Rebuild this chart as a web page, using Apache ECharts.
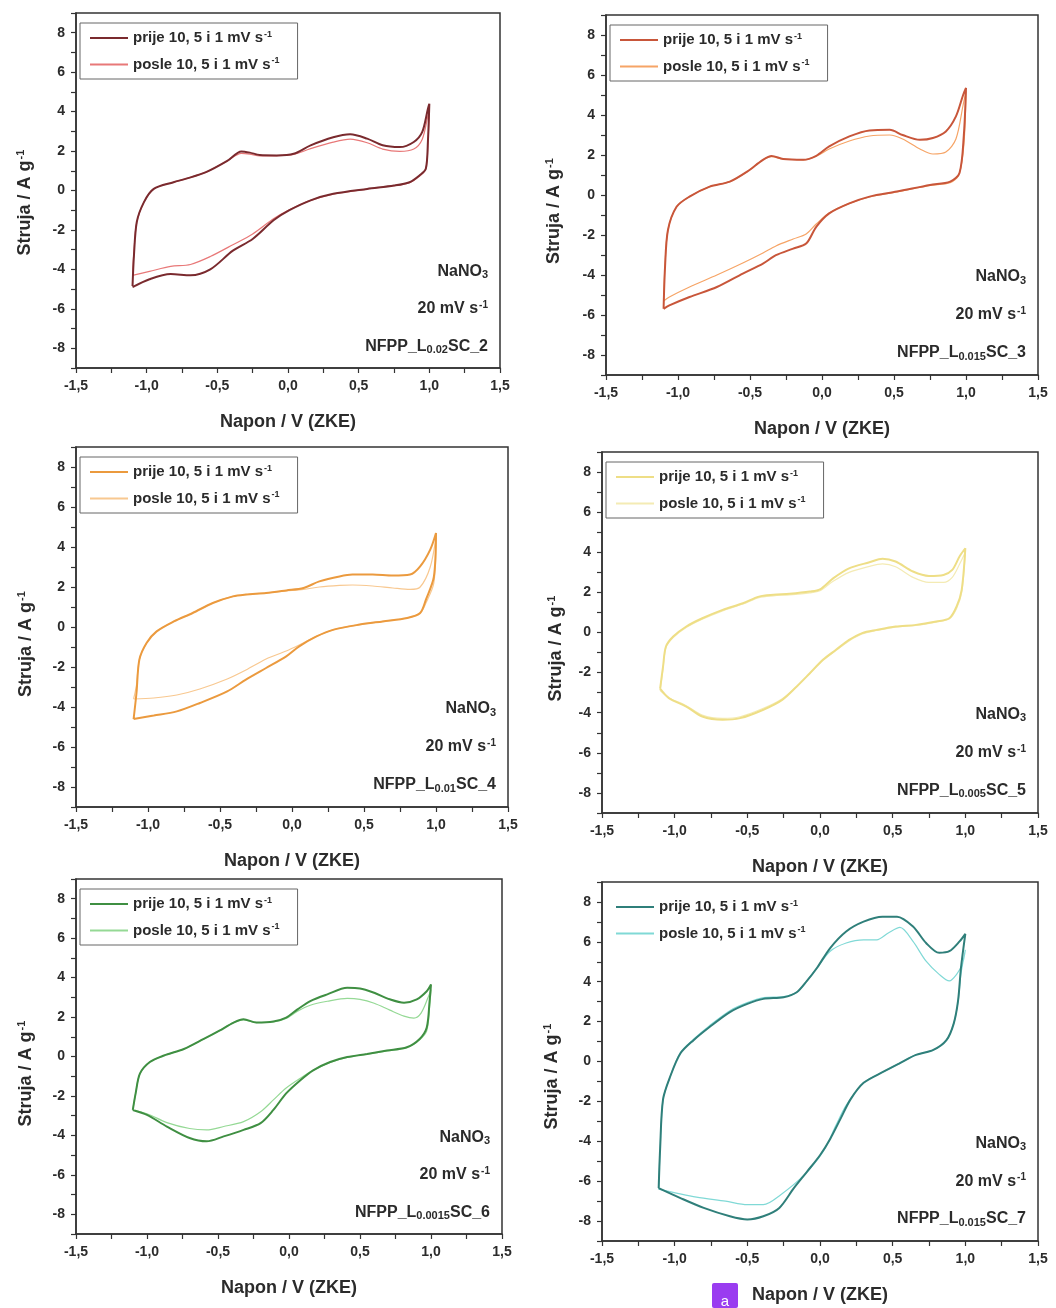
<!DOCTYPE html>
<html>
<head>
<meta charset="utf-8">
<script src="https://cdn.jsdelivr.net/npm/echarts@6/dist/echarts.min.js"></script>
<style>
html,body{margin:0;padding:0;background:#fff;}
#c{width:1056px;height:1308px;}
</style>
</head>
<body>
<div id="c"></div>
<script>
// ---------- DATA ----------
const seriesNames = ['prije 10, 5 i 1 mV s', 'posle 10, 5 i 1 mV s'];
const xTickLabels = ['-1,5','-1,0','-0,5','0,0','0,5','1,0','1,5'];
const yTickLabels = ['-8','-6','-4','-2','0','2','4','6','8'];
const sampleSubs = ['0.02','0.015','0.01','0.005','0.0015','0.015'];
const sampleNums = ['2','3','4','5','6','7'];

const p1Prije = [[-1.10,-4.85],[-1.09,-3.3],[-1.07,-1.6],[-1.02,-0.6],[-0.95,0.08],[-0.81,0.42],[-0.72,0.6],[-0.58,0.93],[-0.43,1.5],[-0.33,1.98],[-0.27,1.92],[-0.20,1.8],[-0.08,1.78],[0.04,1.86],[0.16,2.29],[0.32,2.7],[0.44,2.85],[0.56,2.63],[0.67,2.29],[0.79,2.2],[0.89,2.46],[0.95,2.97],[0.99,4.15],[1.0,4.4],[0.99,2.5],[0.975,1.1],[0.93,0.76],[0.86,0.42],[0.75,0.25],[0.56,0.08],[0.32,-0.17],[0.16,-0.5],[0.01,-1.0],[-0.10,-1.5],[-0.25,-2.46],[-0.39,-3.05],[-0.55,-4.0],[-0.69,-4.3],[-0.83,-4.24],[-0.98,-4.5],[-1.10,-4.9]];
const p1Posle = [[-1.10,-4.3],[-1.09,-3.1],[-1.07,-1.6],[-1.02,-0.6],[-0.95,0.08],[-0.81,0.42],[-0.72,0.6],[-0.58,0.93],[-0.43,1.5],[-0.33,1.88],[-0.27,1.84],[-0.20,1.75],[-0.08,1.76],[0.04,1.83],[0.16,2.12],[0.32,2.45],[0.44,2.6],[0.56,2.42],[0.67,2.1],[0.79,1.98],[0.89,2.1],[0.95,2.6],[0.99,3.8],[1.0,4.2],[0.99,2.3],[0.975,1.1],[0.93,0.72],[0.86,0.4],[0.75,0.24],[0.56,0.07],[0.32,-0.18],[0.16,-0.5],[0.01,-0.98],[-0.10,-1.42],[-0.25,-2.2],[-0.39,-2.75],[-0.55,-3.35],[-0.69,-3.75],[-0.83,-3.85],[-0.98,-4.1],[-1.10,-4.3]];

const p2Prije = [[-1.10,-5.69],[-1.09,-3.6],[-1.07,-1.76],[-1.01,-0.59],[-0.92,-0.08],[-0.78,0.42],[-0.64,0.67],[-0.52,1.17],[-0.41,1.76],[-0.35,1.95],[-0.27,1.8],[-0.13,1.76],[-0.04,1.96],[0.05,2.43],[0.19,2.93],[0.33,3.23],[0.47,3.26],[0.56,3.0],[0.68,2.76],[0.77,2.85],[0.86,3.18],[0.93,3.93],[0.98,5.0],[1.0,5.35],[0.985,3.0],[0.955,1.1],[0.89,0.67],[0.75,0.5],[0.52,0.17],[0.33,-0.08],[0.19,-0.42],[0.05,-0.92],[-0.04,-1.59],[-0.11,-2.43],[-0.2,-2.68],[-0.32,-3.01],[-0.41,-3.43],[-0.55,-3.93],[-0.73,-4.6],[-0.92,-5.1],[-1.06,-5.52],[-1.10,-5.69]];
const p2Posle = [[-1.10,-5.3],[-1.09,-3.5],[-1.07,-1.76],[-1.01,-0.59],[-0.92,-0.08],[-0.78,0.42],[-0.64,0.67],[-0.52,1.17],[-0.41,1.76],[-0.35,1.92],[-0.27,1.8],[-0.13,1.76],[-0.04,1.94],[0.05,2.3],[0.19,2.7],[0.33,2.95],[0.47,3.0],[0.56,2.8],[0.68,2.3],[0.77,2.05],[0.86,2.15],[0.93,2.8],[0.98,4.5],[1.0,5.2],[0.985,2.5],[0.95,1.0],[0.89,0.62],[0.75,0.48],[0.52,0.15],[0.33,-0.1],[0.19,-0.42],[0.05,-0.9],[-0.04,-1.45],[-0.11,-1.95],[-0.2,-2.2],[-0.32,-2.55],[-0.41,-2.9],[-0.55,-3.4],[-0.73,-4.0],[-0.92,-4.6],[-1.06,-5.1],[-1.10,-5.3]];

const p3Prije = [[-1.10,-4.6],[-1.08,-3.3],[-1.06,-1.63],[-1.01,-0.8],[-0.94,-0.22],[-0.82,0.28],[-0.69,0.7],[-0.55,1.2],[-0.41,1.53],[-0.32,1.62],[-0.18,1.7],[-0.04,1.83],[0.08,1.95],[0.19,2.28],[0.33,2.53],[0.42,2.62],[0.56,2.62],[0.70,2.57],[0.82,2.62],[0.89,3.03],[0.96,3.87],[1.0,4.7],[0.985,2.5],[0.93,1.37],[0.89,0.7],[0.8,0.45],[0.63,0.28],[0.47,0.12],[0.29,-0.13],[0.17,-0.47],[0.05,-0.97],[-0.04,-1.47],[-0.18,-2.05],[-0.32,-2.63],[-0.45,-3.22],[-0.64,-3.8],[-0.80,-4.22],[-0.96,-4.43],[-1.10,-4.6]];
const p3Posle = [[-1.10,-3.6],[-1.08,-2.9],[-1.06,-1.63],[-1.01,-0.8],[-0.94,-0.22],[-0.82,0.28],[-0.69,0.7],[-0.55,1.2],[-0.41,1.53],[-0.32,1.62],[-0.18,1.7],[-0.04,1.8],[0.08,1.88],[0.19,2.0],[0.33,2.08],[0.42,2.1],[0.56,2.05],[0.70,1.95],[0.82,1.88],[0.89,2.0],[0.96,3.0],[1.0,4.5],[0.985,2.2],[0.93,1.2],[0.89,0.7],[0.8,0.45],[0.63,0.28],[0.47,0.12],[0.29,-0.13],[0.17,-0.47],[0.05,-0.9],[-0.04,-1.2],[-0.18,-1.6],[-0.32,-2.15],[-0.45,-2.6],[-0.64,-3.1],[-0.80,-3.4],[-0.96,-3.55],[-1.10,-3.6]];

const p4Prije = [[-1.10,-2.8],[-1.08,-1.7],[-1.06,-0.7],[-1.01,-0.2],[-0.92,0.3],[-0.81,0.71],[-0.67,1.13],[-0.53,1.46],[-0.42,1.79],[-0.32,1.88],[-0.21,1.93],[-0.07,2.04],[0.0,2.15],[0.09,2.7],[0.2,3.2],[0.34,3.5],[0.43,3.68],[0.52,3.54],[0.64,3.04],[0.75,2.82],[0.85,2.87],[0.91,3.12],[0.96,3.79],[1.0,4.2],[0.975,2.13],[0.94,1.3],[0.89,0.71],[0.8,0.55],[0.66,0.38],[0.52,0.3],[0.39,0.13],[0.29,-0.03],[0.2,-0.37],[0.11,-0.86],[0.02,-1.36],[-0.07,-2.03],[-0.16,-2.69],[-0.26,-3.36],[-0.39,-3.85],[-0.55,-4.27],[-0.67,-4.35],[-0.81,-4.19],[-0.92,-3.69],[-1.04,-3.27],[-1.10,-2.8]];
const p4Posle = [[-1.10,-2.9],[-1.08,-1.8],[-1.06,-0.75],[-1.01,-0.25],[-0.92,0.25],[-0.81,0.66],[-0.67,1.08],[-0.53,1.42],[-0.42,1.74],[-0.32,1.83],[-0.21,1.88],[-0.07,1.98],[0.0,2.08],[0.09,2.55],[0.2,3.0],[0.34,3.3],[0.43,3.42],[0.52,3.28],[0.64,2.75],[0.75,2.5],[0.85,2.5],[0.91,2.75],[0.96,3.4],[1.0,4.0],[0.975,2.0],[0.94,1.2],[0.89,0.68],[0.8,0.52],[0.66,0.35],[0.52,0.27],[0.39,0.1],[0.29,-0.07],[0.2,-0.42],[0.11,-0.9],[0.02,-1.4],[-0.07,-2.05],[-0.16,-2.7],[-0.26,-3.3],[-0.39,-3.78],[-0.55,-4.2],[-0.67,-4.28],[-0.81,-4.12],[-0.92,-3.65],[-1.04,-3.25],[-1.10,-2.9]];

const p5Prije = [[-1.10,-2.71],[-1.08,-1.87],[-1.05,-0.87],[-0.98,-0.28],[-0.88,0.05],[-0.74,0.38],[-0.60,0.89],[-0.49,1.31],[-0.39,1.72],[-0.32,1.89],[-0.23,1.72],[-0.11,1.77],[-0.02,1.97],[0.06,2.39],[0.15,2.81],[0.27,3.15],[0.41,3.48],[0.50,3.45],[0.60,3.23],[0.71,2.9],[0.81,2.73],[0.90,2.9],[0.97,3.31],[1.0,3.65],[0.99,2.8],[0.97,1.47],[0.92,0.89],[0.83,0.47],[0.69,0.3],[0.55,0.13],[0.41,-0.03],[0.29,-0.28],[0.17,-0.7],[0.08,-1.2],[-0.02,-1.87],[-0.11,-2.71],[-0.20,-3.38],[-0.32,-3.72],[-0.46,-4.05],[-0.58,-4.3],[-0.70,-4.13],[-0.86,-3.55],[-1.0,-2.96],[-1.10,-2.71]];
const p5Posle = [[-1.10,-2.7],[-1.08,-1.87],[-1.05,-0.87],[-0.98,-0.28],[-0.88,0.05],[-0.74,0.38],[-0.60,0.89],[-0.49,1.31],[-0.39,1.72],[-0.32,1.86],[-0.23,1.72],[-0.11,1.75],[-0.02,1.93],[0.06,2.3],[0.15,2.6],[0.27,2.8],[0.41,2.95],[0.50,2.9],[0.60,2.7],[0.71,2.35],[0.81,2.05],[0.88,1.95],[0.93,2.2],[0.98,3.0],[1.0,3.4],[0.99,2.5],[0.97,1.3],[0.92,0.85],[0.83,0.45],[0.69,0.28],[0.55,0.12],[0.41,-0.05],[0.29,-0.3],[0.17,-0.7],[0.08,-1.1],[-0.02,-1.6],[-0.11,-2.2],[-0.20,-2.8],[-0.32,-3.3],[-0.46,-3.55],[-0.58,-3.72],[-0.70,-3.65],[-0.86,-3.35],[-1.0,-2.9],[-1.10,-2.7]];

const p6Prije = [[-1.11,-6.35],[-1.10,-4.37],[-1.08,-1.9],[-1.03,-0.74],[-0.96,0.41],[-0.87,1.07],[-0.76,1.73],[-0.62,2.48],[-0.50,2.89],[-0.39,3.14],[-0.25,3.22],[-0.16,3.47],[-0.09,4.04],[-0.02,4.7],[0.07,5.69],[0.18,6.52],[0.30,7.01],[0.43,7.26],[0.53,7.26],[0.64,6.77],[0.73,5.94],[0.82,5.45],[0.89,5.53],[0.96,6.02],[1.0,6.4],[0.97,4.7],[0.95,3.05],[0.92,1.9],[0.87,1.07],[0.78,0.58],[0.66,0.33],[0.55,-0.08],[0.44,-0.5],[0.30,-1.07],[0.21,-1.9],[0.14,-2.89],[0.07,-3.88],[0.0,-4.7],[-0.09,-5.53],[-0.18,-6.35],[-0.28,-7.34],[-0.39,-7.76],[-0.50,-7.92],[-0.62,-7.76],[-0.80,-7.34],[-0.96,-6.85],[-1.11,-6.35]];
const p6Posle = [[-1.11,-6.4],[-1.10,-4.37],[-1.08,-1.9],[-1.03,-0.74],[-0.96,0.45],[-0.87,1.12],[-0.76,1.8],[-0.62,2.55],[-0.50,2.95],[-0.39,3.2],[-0.25,3.25],[-0.16,3.47],[-0.09,4.04],[-0.02,4.7],[0.07,5.53],[0.18,5.94],[0.30,6.1],[0.39,6.1],[0.47,6.44],[0.55,6.72],[0.64,6.02],[0.73,5.03],[0.82,4.37],[0.89,4.04],[0.94,4.37],[0.98,4.9],[1.0,5.6],[0.97,4.4],[0.95,3.0],[0.92,1.9],[0.87,1.07],[0.78,0.58],[0.66,0.33],[0.55,-0.08],[0.44,-0.5],[0.30,-1.07],[0.18,-2.2],[0.11,-3.2],[0.02,-4.54],[-0.11,-5.7],[-0.27,-6.68],[-0.39,-7.18],[-0.50,-7.18],[-0.65,-7.0],[-0.85,-6.8],[-1.11,-6.4]];

// ---------- LAYOUT / STYLE ----------
const FONT = '"Liberation Sans", Arial, sans-serif';
const TXT = '#2b2b2b';
const panels = [
  {grid:{left:76, top:13, width:424, height:355}, prije:p1Prije, posle:p1Posle, cA:'#7a2a2e', cB:'#e87878', box:true,  ytX:25,  ytDy:12},
  {grid:{left:606,top:15, width:432, height:360}, prije:p2Prije, posle:p2Posle, cA:'#c8563a', cB:'#f6a466', box:true,  ytX:554, ytDy:16},
  {grid:{left:76, top:447,width:432, height:360}, prije:p3Prije, posle:p3Posle, cA:'#eb9a3e', cB:'#f8c890', box:true,  ytX:26,  ytDy:17},
  {grid:{left:602,top:452,width:436, height:361}, prije:p4Prije, posle:p4Posle, cA:'#eede86', cB:'#f4ebb4', box:true,  ytX:556, ytDy:16},
  {grid:{left:76, top:879,width:426, height:355}, prije:p5Prije, posle:p5Posle, cA:'#3f8f42', cB:'#95d995', box:true,  ytX:26,  ytDy:17},
  {grid:{left:602,top:882,width:436, height:359}, prije:p6Prije, posle:p6Posle, cA:'#2f7f7a', cB:'#80d9d6', box:false, ytX:552, ytDy:15}
];

const xFmt = v => {
  const r = Math.round(v * 100) / 100;
  if (Math.abs(r * 2 - Math.round(r * 2)) > 1e-6) return '';
  const idx = Math.round((r + 1.5) * 2);
  return xTickLabels[idx] || '';
};
const yFmt = v => {
  const r = Math.round(v);
  if (r % 2 !== 0) return '';
  const idx = (r + 8) / 2;
  return yTickLabels[idx] || '';
};

const option = {
  backgroundColor:'#fff',
  animation:false,
  grid:[], xAxis:[], yAxis:[], series:[], legend:[], graphic:[]
};

panels.forEach((p, i) => {
  const g = p.grid;
  option.grid.push({left:g.left, top:g.top, width:g.width, height:g.height, show:true, borderColor:'#333', borderWidth:1.5, backgroundColor:'transparent'});
  option.xAxis.push({
    type:'value', gridIndex:i, min:-1.5, max:1.5, interval:0.25,
    name:'Napon / V (ZKE)', nameLocation:'middle', nameGap:45,
    nameTextStyle:{fontFamily:FONT, fontWeight:'bold', fontSize:18, color:TXT},
    axisLine:{show:true, onZero:false, lineStyle:{color:'#333', width:1.5}},
    axisTick:{show:true, inside:false, length:5, lineStyle:{color:'#333', width:1.2}},
    axisLabel:{formatter:xFmt, margin:11, fontFamily:FONT, fontWeight:'bold', fontSize:14, color:TXT, hideOverlap:false},
    splitLine:{show:false}
  });
  option.yAxis.push({
    type:'value', gridIndex:i, min:-9, max:9, interval:1,
    axisLine:{show:true, onZero:false, lineStyle:{color:'#333', width:1.5}},
    axisTick:{show:true, inside:false, length:5, lineStyle:{color:'#333', width:1.2}},
    axisLabel:{formatter:yFmt, margin:11, fontFamily:FONT, fontWeight:'bold', fontSize:14, color:TXT},
    splitLine:{show:false}
  });
  const nA = seriesNames[0] + '#' + i, nB = seriesNames[1] + '#' + i;
  option.series.push({
    type:'line', name:nA, xAxisIndex:i, yAxisIndex:i, data:p.prije, symbol:'none', smooth:0.3, z:3,
    lineStyle:{color:p.cA, width:2}, itemStyle:{color:p.cA}
  });
  option.series.push({
    type:'line', name:nB, xAxisIndex:i, yAxisIndex:i, data:p.posle, symbol:'none', smooth:0.3, z:2,
    lineStyle:{color:p.cB, width:1.2}, itemStyle:{color:p.cB}
  });
  option.legend.push({
    orient:'vertical', left:g.left + 4, top:g.top + 10,
    icon:'rect', itemWidth:38, itemHeight:2, itemGap:11,
    padding:[7,18,7,10],
    borderColor: p.box ? '#666' : 'transparent', borderWidth: p.box ? 1 : 0,
    backgroundColor:'transparent',
    selectedMode:false,
    data:[nA, nB],
    formatter: name => name.split('#')[0] + '{s|-1}',
    textStyle:{fontFamily:FONT, fontWeight:'bold', fontSize:15, color:TXT,
      rich:{s:{fontFamily:FONT, fontWeight:'bold', fontSize:9, color:TXT, verticalAlign:'top', padding:[0,0,7,1]}}}
  });
  // y axis title (rotated), placed like the original (slightly below centre)
  option.graphic.push({
    type:'text', x:p.ytX, y:g.top + g.height / 2 + p.ytDy, rotation:Math.PI / 2, z:10,
    style:{text:'Struja / A g{s|-1}', font:'bold 18px ' + FONT, fill:TXT, align:'center', verticalAlign:'middle',
      rich:{s:{fontFamily:FONT, fontWeight:'bold', fontSize:11, fill:TXT, verticalAlign:'top', padding:[0,0,8,1]}}}
  });
  // annotation texts (right aligned, inside the plot)
  const yPix = v => g.top + (9 - v) / 18 * g.height;
  const xr = g.left + g.width - 12;
  const richAnn = {
    sub:{fontFamily:FONT, fontWeight:'bold', fontSize:11, fill:TXT, verticalAlign:'bottom', padding:[7,0,0,0]},
    sup:{fontFamily:FONT, fontWeight:'bold', fontSize:10, fill:TXT, verticalAlign:'top', padding:[0,0,7,1]}
  };
  const ann = [
    {t:'NaNO{sub|3}', v:-4.1},
    {t:'20 mV s{sup|-1}', v:-6.0},
    {t:'NFPP_L{sub|' + sampleSubs[i] + '}SC_' + sampleNums[i], v:-7.9}
  ];
  ann.forEach(a => {
    option.graphic.push({
      type:'text', x:xr, y:yPix(a.v), z:10,
      style:{text:a.t, font:'bold 16px ' + FONT, fill:TXT, align:'right', verticalAlign:'middle', rich:richAnn}
    });
  });
});

// small purple badge at the bottom
option.graphic.push({type:'rect', shape:{x:712, y:1283, width:26, height:25, r:2}, style:{fill:'#9a3cf0'}, z:20});
option.graphic.push({type:'text', x:725, y:1302, z:21, style:{text:'a', font:'15px ' + FONT, fill:'#fff', align:'center', verticalAlign:'middle'}});

const chart = echarts.init(document.getElementById('c'), null, {renderer:'canvas'});
chart.setOption(option);
</script>
</body>
</html>
